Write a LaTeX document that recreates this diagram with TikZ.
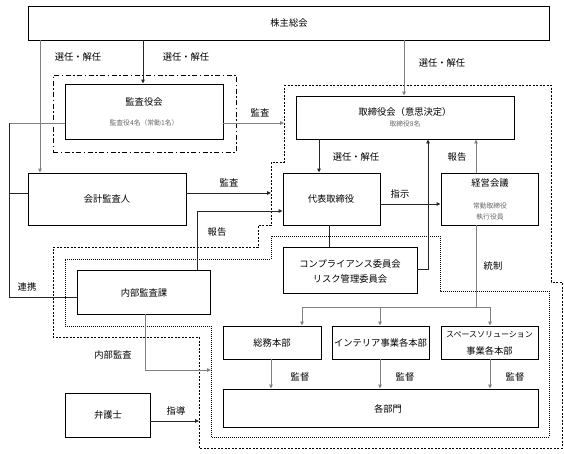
\documentclass[tikz,border=0pt]{standalone}
\usepackage{fontspec}
\newfontfamily\jp{Noto Sans CJK JP}
\usetikzlibrary{arrows.meta,fit}
\begin{document}
\begin{tikzpicture}[x=1pt,y=-1pt,
  box/.style={draw, line width=0.9pt, inner sep=0pt, fit={#1}},
  txt/.style={font=\jp\fontsize{9.3}{11}\selectfont, inner sep=0pt},
  smalltxt/.style={font=\jp\fontsize{6.8}{8}\selectfont, inner sep=0pt, text=black!60},
  midtxt/.style={font=\jp\fontsize{8}{9}\selectfont, inner sep=0pt},
  tip/.style={-{Triangle[length=4pt,width=3.6pt]}},
  gline/.style={draw=black!50, line width=0.9pt},
  bline/.style={draw=black!85, line width=0.9pt},
  garr/.style={gline, tip},
  barr/.style={bline, tip},
  outerdots/.style={draw, line width=0.8pt, dash pattern=on 2pt off 1.5pt},
  innerdots/.style={draw, line width=0.8pt, dash pattern=on 1pt off 1pt},
  dashdot/.style={draw, line width=0.9pt, dash pattern=on 5pt off 2.5pt on 1.5pt off 2.5pt, inner sep=0pt, fit={#1}}
]
\useasboundingbox (0,0) rectangle (564,453);

% region outlines
\draw[outerdots] (284,85) -- (551,85) -- (551,282) -- (562,282) -- (562,448) -- (199,448)
  -- (199,337) -- (53,337) -- (53,247) -- (258,247) -- (258,225) -- (271,225) -- (271,162)
  -- (284,162) -- cycle;
\draw[innerdots] (65,259) -- (271,259) -- (271,236) -- (440,236) -- (440,291) -- (549,291)
  -- (549,437) -- (211,437) -- (211,326) -- (65,326) -- cycle;

% boxes
\node[box={(28,6) (549,40)}] (kabu) {};
\node[txt] (kabut) at (289,23) {株主総会};
\node[dashdot={(53,75) (236,152)}] (kansaframe) {};
\node[box={(65,84) (223,139)}] (kansa) {};
\node[txt] (kansat) at (144,102) {監査役会};
\node[smalltxt] (kansas) at (144,123) {監査役4名（常勤1名）};
\node[box={(296,96) (514,139)}] (tori) {};
\node[txt] (torit) at (405,112) {取締役会（意思決定）};
\node[smalltxt] (toris) at (405,124) {取締役8名};
\node[box={(28,173) (186,225)}] (kaikei) {};
\node[txt] (kaikeit) at (107,199) {会計監査人};
\node[box={(283,173) (380,225)}] (daihyo) {};
\node[txt] (daihyot) at (331,199) {代表取締役};
\node[box={(441,173) (538,225)}] (keiei) {};
\node[txt] (keieit) at (490,183) {経営会議};
\node[smalltxt] (keieis1) at (490,206) {常勤取締役};
\node[smalltxt] (keieis2) at (490,217) {執行役員};
\node[box={(283,247) (417,293)}] (comp) {};
\node[txt] (compt1) at (350,264) {コンプライアンス委員会};
\node[txt] (compt2) at (350,279) {リスク管理委員会};
\node[box={(77,270) (210,314)}] (naibu) {};
\node[txt] (naibut) at (144,293) {内部監査課};
\node[box={(223,326) (321,359)}] (soumu) {};
\node[txt] (soumut) at (272,343) {総務本部};
\node[box={(332,326) (429,359)}] (inter) {};
\node[txt] (intert) at (380.5,343) {インテリア事業各本部};
\node[box={(441,326) (538,359)}] (space) {};
\node[midtxt] (spacet1) at (489.5,335) {スペースソリューション};
\node[txt] (spacet2) at (489.5,351) {事業各本部};
\node[box={(223,389) (538,427)}] (kaku) {};
\node[txt] (kakut) at (388,409) {各部門};
\node[box={(65,393) (150,437)}] (bengo) {};
\node[txt] (bengot) at (108,415) {弁護士};

% helper coordinates
\coordinate (xA) at (40,0);
\coordinate (xB) at (143,0);
\coordinate (xC) at (404,0);
\coordinate (p1) at (9,123);
\coordinate (p2) at (0,297);
\coordinate (kk) at (0,193);
\coordinate (e1) at (284,123);
\coordinate (e2) at (271,193);
\coordinate (q1) at (197,211);
\coordinate (q2) at (319,0);
\coordinate (q3) at (428,269);
\coordinate (q4) at (476,307);
\coordinate (q5) at (0,204);
\coordinate (q6) at (329,0);
\coordinate (b1) at (302,307);
\coordinate (b2) at (380,307);
\coordinate (b3) at (490,307);
\coordinate (m1) at (271,0);
\coordinate (m2) at (380,0);
\coordinate (m3) at (490,0);
\coordinate (r1) at (145,370);
\coordinate (e3) at (211,370);
\coordinate (e4) at (199,421);

% connectors
\draw[garr] (kabu.south -| xA) -- (kaikei.north -| xA);
\draw[barr] (kabu.south -| xB) -- (kansa.north -| xB);
\draw[garr] (kabu.south -| xC) -- (tori.north -| xC);
\draw[gline] (kansa.west |- p1) -- (p1);
\draw[bline] (p1) -- (p1 |- p2) -- (naibu.west |- p2);
\draw[bline] (p1 |- kk) -- (kaikei.west |- kk);
\draw[garr] (kansa.east |- p1) -- (e1);
\draw[barr] (kaikei.east |- kk) -- (e2);
\draw[barr] (naibu.north -| q1) -- (q1) -- (daihyo.west |- q1);
\draw[barr] (tori.south -| q2) -- (daihyo.north -| q2);
\draw[barr] (comp.east |- q3) -- (q3) -- (tori.south -| q3);
\draw[garr] (keiei.north -| q4) -- (tori.south -| q4);
\draw[barr] (daihyo.east |- q5) -- (keiei.west |- q5);
\draw[bline] (daihyo.south -| q6) -- (comp.north -| q6);
\draw[gline] (keiei.south -| q4) -- (q4);
\draw[gline] (b1) -- (b3);
\draw[garr] (b1) -- (soumu.north -| b1);
\draw[garr] (b2) -- (inter.north -| b2);
\draw[garr] (b3) -- (space.north -| b3);
\draw[garr] (soumu.south -| m1) -- (kaku.north -| m1);
\draw[garr] (inter.south -| m2) -- (kaku.north -| m2);
\draw[garr] (space.south -| m3) -- (kaku.north -| m3);
\draw[garr] (naibu.south -| r1) -- (r1) -- (e3);
\draw[barr] (bengo.east |- e4) -- (e4);

% labels
\node[txt] (l1) at (78,57) {選任・解任};
\node[txt] (l2) at (186,57) {選任・解任};
\node[txt] (l3) at (442,63) {選任・解任};
\node[txt] (l4) at (260,113) {監査};
\node[txt] (l5) at (229,183) {監査};
\node[txt] (l6) at (356,157) {選任・解任};
\node[txt] (l7) at (457,157) {報告};
\node[txt] (l8) at (400,194) {指示};
\node[txt] (l9) at (217,232) {報告};
\node[txt] (l10) at (493,266) {統制};
\node[txt] (l11) at (27,287) {連携};
\node[txt] (l12) at (113,355) {内部監査};
\node[txt] (l13) at (300,377) {監督};
\node[txt] (l14) at (405,377) {監督};
\node[txt] (l15) at (515,377) {監督};
\node[txt] (l16) at (176,411) {指導};
\end{tikzpicture}
\end{document}
